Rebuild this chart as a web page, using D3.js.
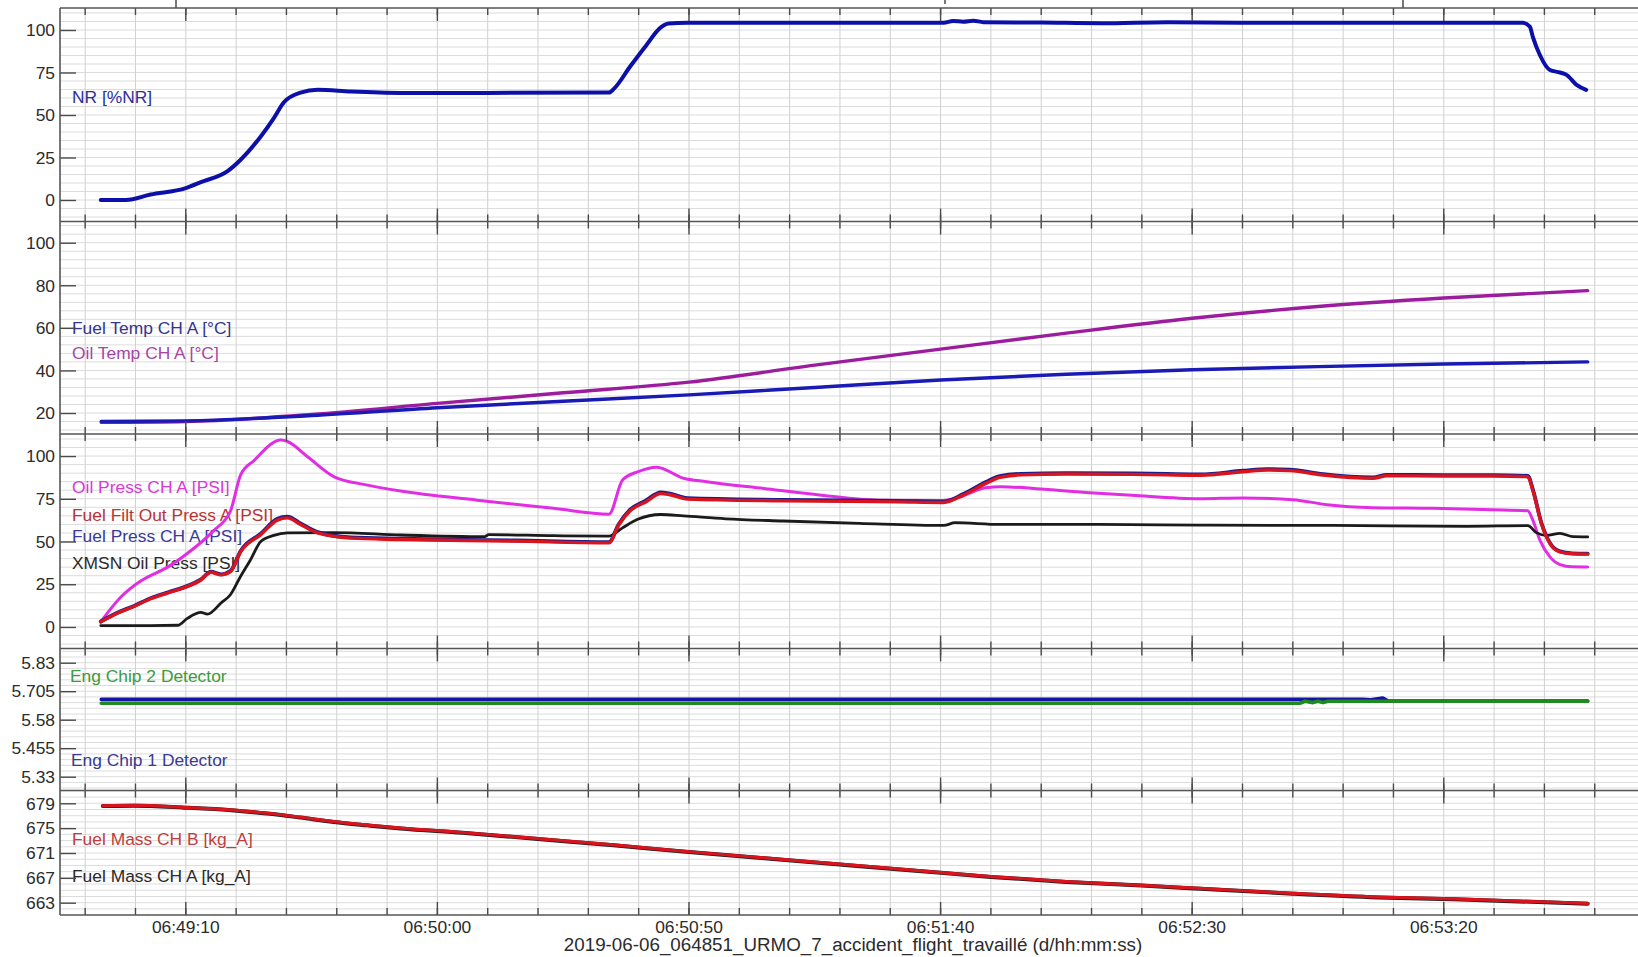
<!DOCTYPE html>
<html><head><meta charset="utf-8">
<script src="https://cdn.jsdelivr.net/npm/d3@7"></script>
<style>
html,body{margin:0;padding:0;background:#fff;overflow:hidden}
svg{display:block}
text{font-family:"Liberation Sans",Arial,Helvetica,sans-serif}
</style></head><body>
<svg id="chart" width="1638" height="957"></svg>
<script>
// Flight recorder parameters. Times are seconds after 06:48:00 on 2019-06-06.
const timeTickLabels = ["06:49:10","06:50:00","06:50:50","06:51:40","06:52:30","06:53:20"];

const nrTicks    = [0, 25, 50, 75, 100];
const tempTicks  = [20, 40, 60, 80, 100];
const pressTicks = [0, 25, 50, 75, 100];
const chipTicks  = [5.33, 5.455, 5.58, 5.705, 5.83];
const massTicks  = [663, 667, 671, 675, 679];

// NR [%NR]
const nrPct = [[53.1,0],[58.1,0],[63,3.2],[70,7],[73,10.5],[78.3,17],[80.9,23.7],[84.9,37.4],[87.5,48.2],
  [89.5,57.5],[92.8,63.2],[96.2,64.8],[102.8,63.8],[112.7,63],[130,63],[154.1,63.2],[155.2,65.8],[158.3,78.5],
  [161.3,90.2],[164.4,101.5],[165.9,103.8],[169.7,104.3],[220.6,104.3],[222.5,105.3],[224.5,104.9],[226.5,105.5],
  [228.5,104.6],[240,104.4],[252,104],[265,104.6],[280,104.2],[300,104.2],[320,104.3],[335.7,104.2],[337.1,102],
  [337.7,96],[339.1,85.3],[341.1,76.5],[343.1,75],[344.4,73.6],[346.4,67.7],[348.3,64.8]];

// Temperatures [°C]
const fuelTempA = [[53.2,16],[70,16.3],[95,18.8],[120,22.5],[145,25.5],[170,28.5],[195,32],[220,35.5],
  [245,38.2],[270,40.3],[295,41.8],[320,43],[348.6,44]];
const oilTempA = [[53.2,15.6],[70,16],[95,19.3],[120,24.5],[145,29.5],[170,34.5],[195,42.5],[220,50],
  [245,57.5],[270,64.5],[295,70],[320,74],[348.6,77.5]];

// Pressures [PSI]
const oilPressA = [[53.1,3],[57.1,17.5],[61.1,27],[66.4,35],[70.3,43],[75.6,56.5],[78.9,68],[80.9,89],
  [83.6,97.5],[88.9,109.4],[90.2,108.5],[94.2,99.6],[99.4,88],[106.1,83],[112.7,79.5],[127.9,74.2],[143.1,69.4],
  [154.1,66],[156.8,86],[159.8,90.8],[163.6,93.5],[168.9,87],[173.5,85],[184.9,81],[196.3,77.1],[207.7,74.2],
  [220.6,74],[223.6,75.8],[229,81.5],[232,82],[245,79.5],[258,77],[271.6,75],[280.1,75.5],[290,74.5],
  [296.8,71.5],[305.9,69.8],[317.8,69.4],[329.7,68.6],[336.7,68],[337.7,62.5],[339.1,50.8],[341.1,41],
  [343.1,36.5],[345.5,35.2],[348.6,35.1]];
const fuelPressA = [[53.1,3.2],[56.4,8.3],[59.7,12.3],[63,16.8],[66.5,20.3],[69.7,23.3],[73,27.8],[75,32.3],
  [77,30.8],[78.9,32.8],[80.9,44.5],[84.9,54.6],[88.2,63.3],[90.2,64.6],[92.8,60.6],[96.2,55.5],[102.8,52.4],
  [112.7,51.6],[135.5,50.6],[154.1,49.6],[156,60],[158.3,68.6],[161.3,73.8],[164.4,78.8],[166,78.2],
  [169.7,75.4],[188.7,74.4],[211.5,73.8],[220.6,73.3],[224.4,77.6],[229,84.8],[231.8,88.2],[236,89.6],
  [245,90],[258,89.8],[265,89.5],[271.6,89.3],[280.1,91.4],[284.9,92.4],[289.4,92.1],[296,89.4],[305.9,87.5],
  [308.7,89],[320,88.8],[329.7,88.8],[336.7,88.4],[337.7,80.5],[339.4,61],[341.1,49.2],[343.1,44.2],
  [345.5,43.1],[348.6,42.9]];
const fuelFiltOutPressA = [[53.1,3],[56.4,8],[59.7,12],[63,16.5],[66.5,20],[69.7,23],[73,27.5],[75,32],
  [77,30.5],[78.9,32.5],[80.9,44],[84.9,54],[88.2,62.5],[90.2,63.8],[92.8,60],[96.2,55],[102.8,52],
  [112.7,51.2],[135.5,50.2],[154.1,49.2],[156,59.5],[158.3,68],[161.3,73],[164.4,78],[166,77.5],[169.7,74.8],
  [188.7,73.8],[211.5,73.2],[220.6,72.8],[224.4,77],[229,84],[231.8,87.5],[236,89],[245,89.5],[258,89.3],
  [265,89],[271.6,88.8],[280.1,90.8],[284.9,91.8],[289.4,91.5],[296,88.9],[305.9,87],[308.7,88.5],[320,88.3],
  [329.7,88.3],[336.7,87.9],[337.7,80],[339.4,60.5],[341.1,48.8],[343.1,43.9],[345.5,42.8],[348.6,42.6]];
const xmsnOilPress = [[53.1,0.8],[60,0.8],[68.4,1],[70.3,5],[73,8.5],[74.3,7.5],[77,14],[78.9,19],
  [80.9,29.7],[82.9,39.5],[84.9,50],[87.5,53.6],[90.2,55],[99.4,55.2],[112.7,53.8],[129.4,52.8],[130.2,54],
  [143.1,53.4],[154.1,53.2],[156.8,58],[159.8,63],[164.4,65.8],[168.9,65],[177.3,63.3],[188.7,62],
  [203.9,60.6],[220.6,59.4],[222.9,61],[231.8,60],[250,60],[271.6,59.6],[298,59.4],[324.6,58.9],
  [336.7,59.3],[338.4,55.2],[340.4,53.6],[343.1,54.8],[345.7,52.8],[348.6,52.7]];

// Chip detectors
const engChip1 = [[53.2,5.669],[303.9,5.669],[305.5,5.667],[307.9,5.675],[309,5.662],[348.6,5.662]];
const engChip2 = [[53.2,5.652],[291.4,5.652],[292.4,5.661],[294,5.655],[295,5.661],[296,5.655],
  [297,5.661],[348.6,5.661]];

// Fuel mass [kg_A]
const fuelMassA = [[53.5,678.55],[59.7,678.6],[69.7,678.3],[79.6,677.85],[86.2,677.35],[92.8,676.7],
  [99.4,676],[106.1,675.45],[112.7,674.95],[125,674.25],[140,673.25],[155,672.25],[170,671.15],[185,670.15],
  [200,669.15],[215,668.15],[230,667.15],[245,666.35],[260,665.75],[271.6,665.25],[290,664.45],[307,663.85],
  [322,663.55],[348.6,662.85]];
const fuelMassB = [[53.5,678.6],[59.7,678.65],[69.7,678.35],[79.6,677.9],[86.2,677.4],[92.8,676.75],
  [99.4,676.05],[106.1,675.5],[112.7,675],[125,674.3],[140,673.3],[155,672.3],[170,671.2],[185,670.2],
  [200,669.2],[215,668.2],[230,667.2],[245,666.4],[260,665.8],[271.6,665.3],[290,664.5],[307,663.9],
  [322,663.6],[348.6,662.9]];

const base = new Date(2019, 5, 6, 6, 48, 0);
const at = s => new Date(base.getTime() + s * 1000);
const parseClock = d3.timeParse("%Y-%m-%d %H:%M:%S");

const left = 60, right = 1640;
const FS = 17.4;
const svg = d3.select("#chart");

const x = d3.scaleTime().domain([at(45), at(358.6)]).range([left, 1638]);
const minorTimes = d3.range(50, 360, 10).map(at);
const majorTimes = timeTickLabels.map(s => parseClock("2019-06-06 " + s));

const panels = [
  { top: 8, bottom: 221.5, domain: [-12.65, 112.94], ticks: nrTicks, minor: 5,
    series: [{ data: nrPct, color: "#0c10a8", w: 4, curve: d3.curveMonotoneX }],
    labels: [{ text: "NR [%NR]", y: 103, color: "#2b2f9c", x: 72 }] },
  { top: 221.5, bottom: 434, domain: [10.14, 109.96], ticks: tempTicks, minor: 4,
    series: [{ data: oilTempA, color: "#9c1c9e", w: 3.4, curve: d3.curveMonotoneX },
             { data: fuelTempA, color: "#1a1ab4", w: 3.4, curve: d3.curveMonotoneX }],
    labels: [{ text: "Fuel Temp CH A [°C]", y: 334, color: "#35358c", x: 72 },
             { text: "Oil Temp CH A [°C]", y: 359, color: "#a646a6", x: 72 }] },
  { top: 434, bottom: 648.5, domain: [-12.6, 112.9], ticks: pressTicks, minor: 5,
    series: [{ data: oilPressA, color: "#e22ee2", w: 3, curve: d3.curveMonotoneX },
             { data: xmsnOilPress, color: "#1b1b1b", w: 2.8, curve: d3.curveMonotoneX },
             { data: fuelPressA, color: "#1c1c8c", w: 3.8, curve: d3.curveMonotoneX },
             { data: fuelFiltOutPressA, color: "#d8141e", w: 3.4, curve: d3.curveMonotoneX }],
    labels: [{ text: "Oil Press CH A [PSI]", y: 493, color: "#d73ad7", x: 72 },
             { text: "Fuel Filt Out Press A [PSI]", y: 521, color: "#b83434", x: 72 },
             { text: "Fuel Press CH A [PSI]", y: 542, color: "#3a3a98", x: 72 },
             { text: "XMSN Oil Press [PSI]", y: 569, color: "#2a2a2a", x: 72 }] },
  { top: 648.5, bottom: 790.5, domain: [5.2695, 5.8923], ticks: chipTicks, minor: 0.025,
    series: [{ data: engChip1, color: "#1414a6", w: 3.6, curve: d3.curveLinear },
             { data: engChip2, color: "#1f8a22", w: 3.6, curve: d3.curveLinear }],
    labels: [{ text: "Eng Chip 2 Detector", y: 682, color: "#3c9a3c", x: 70 },
             { text: "Eng Chip 1 Detector", y: 766, color: "#3a3a8e", x: 71 }] },
  { top: 790.5, bottom: 915, domain: [661.02, 681.06], ticks: massTicks, minor: 1,
    series: [{ data: fuelMassA, color: "#1b1b1b", w: 4, curve: d3.curveMonotoneX },
             { data: fuelMassB, color: "#d8141e", w: 3.2, curve: d3.curveMonotoneX }],
    labels: [{ text: "Fuel Mass CH B [kg_A]", y: 845, color: "#c23c3c", x: 72 },
             { text: "Fuel Mass CH A [kg_A]", y: 882, color: "#2a2a2a", x: 72 }] }
];

const gridG = svg.append("g");
const labelG = svg.append("g");
const lineG = svg.append("g");
const axisG = svg.append("g");

panels.forEach((p, i) => {
  const y = d3.scaleLinear().domain(p.domain).range([p.bottom, p.top]);
  const clipId = "clip" + i;
  svg.append("clipPath").attr("id", clipId).append("rect")
    .attr("x", left).attr("y", p.top).attr("width", right - left).attr("height", p.bottom - p.top);

  // horizontal grid (minor + major)
  const lo = Math.ceil((p.domain[0] - p.ticks[0]) / p.minor);
  const hi = Math.floor((p.domain[1] - p.ticks[0]) / p.minor);
  const gridVals = d3.range(lo, hi + 1).map(k => p.ticks[0] + k * p.minor);
  gridG.selectAll(null).data(gridVals).enter().append("line")
    .attr("x1", left).attr("x2", right)
    .attr("y1", d => y(d)).attr("y2", d => y(d))
    .attr("stroke", "#dcdcdc").attr("stroke-width", 1);
  // vertical grid
  gridG.selectAll(null).data(minorTimes).enter().append("line")
    .attr("x1", d => x(d)).attr("x2", d => x(d))
    .attr("y1", p.top).attr("y2", p.bottom)
    .attr("stroke", "#d0d0d0").attr("stroke-width", 1);

  labelG.selectAll(null).data(p.labels).enter().append("text")
    .attr("x", d => d.x).attr("y", d => d.y)
    .attr("fill", d => d.color).attr("font-size", FS)
    .text(d => d.text);

  p.series.forEach(s => {
    const line = d3.line().x(d => x(at(d[0]))).y(d => y(d[1])).curve(s.curve);
    lineG.append("path").attr("clip-path", `url(#${clipId})`)
      .attr("d", line(s.data)).attr("fill", "none")
      .attr("stroke", s.color).attr("stroke-width", s.w)
      .attr("stroke-linejoin", "round").attr("stroke-linecap", "round");
  });

  // y axis ticks drawn inward
  const yAxis = d3.axisRight(y).tickValues(p.ticks).tickSize(16).tickFormat("");
  const ga = axisG.append("g").attr("transform", `translate(${left},0)`).call(yAxis);
  ga.select(".domain").remove();
  ga.selectAll(".tick line").attr("stroke", "#4a4a4a").attr("stroke-width", 1.4);
  axisG.selectAll(null).data(p.ticks).enter().append("text")
    .attr("x", 55).attr("y", d => y(d)).attr("dy", "0.36em")
    .attr("text-anchor", "end").attr("font-size", FS).attr("fill", "#2b2b2b")
    .text(d => String(d));

  // x ticks along top (downward) and bottom (upward) of each panel
  [[p.top, 1], [p.bottom, -1]].forEach(([yy, dir]) => {
    axisG.selectAll(null).data(minorTimes).enter().append("line")
      .attr("x1", d => x(d)).attr("x2", d => x(d))
      .attr("y1", yy).attr("y2", yy + dir * 7)
      .attr("stroke", "#4a4a4a").attr("stroke-width", 1.4);
    axisG.selectAll(null).data(majorTimes).enter().append("line")
      .attr("x1", d => x(d)).attr("x2", d => x(d))
      .attr("y1", yy).attr("y2", yy + dir * 13)
      .attr("stroke", "#4a4a4a").attr("stroke-width", 1.4);
  });
  axisG.append("line").attr("x1", left).attr("x2", right)
    .attr("y1", p.top).attr("y2", p.top).attr("stroke", "#555").attr("stroke-width", 1.6);
});

// outer frame
axisG.append("line").attr("x1", left).attr("x2", left).attr("y1", 8).attr("y2", 915)
  .attr("stroke", "#555").attr("stroke-width", 1.6);
axisG.append("line").attr("x1", left).attr("x2", right).attr("y1", 915).attr("y2", 915)
  .attr("stroke", "#555").attr("stroke-width", 1.6);

// time axis labels
const fmt = d3.timeFormat("%H:%M:%S");
axisG.selectAll(null).data(majorTimes).enter().append("text")
  .attr("x", d => x(d)).attr("y", 933).attr("text-anchor", "middle")
  .attr("font-size", FS).attr("fill", "#2b2b2b").text(d => fmt(d));
axisG.append("text").attr("x", 853).attr("y", 951).attr("text-anchor", "middle")
  .attr("font-size", 18.8).attr("fill", "#2b2b2b")
  .text("2019-06-06_064851_URMO_7_accident_flight_travaillé (d/hh:mm:ss)");

// header frame edges above the plot
[[176, 0, 176, 8], [1403, 0, 1403, 8], [945, 0, 945, 4]].forEach(s => {
  axisG.append("line").attr("x1", s[0]).attr("y1", s[1]).attr("x2", s[2]).attr("y2", s[3])
    .attr("stroke", "#555").attr("stroke-width", 1.6);
});
</script>
</body></html>
